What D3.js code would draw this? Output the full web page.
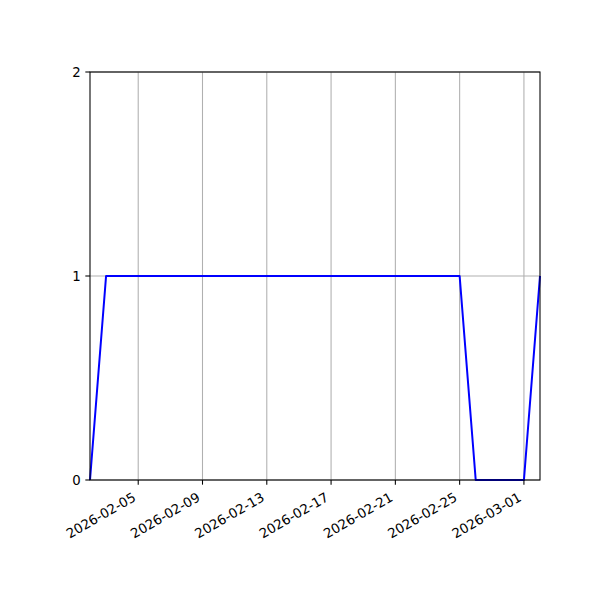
<!DOCTYPE html>
<html>
<head>
<meta charset="utf-8">
<script src="https://cdn.jsdelivr.net/npm/d3@7"></script>
<style>
  body { margin: 0; background: #fff; }
  text { font-family: "DejaVu Sans", sans-serif; font-size: 13.3px; fill: #000; }
</style>
</head>
<body>
<div id="chart"></div>
<script>
// daily values, 2026-02-02 .. 2026-03-02
var startDate = "2026-02-02";
var values = [0,
  1, 1, 1, 1, 1, 1, 1, 1, 1, 1, 1, 1, 1, 1, 1, 1, 1, 1, 1, 1, 1, 1, 1,
  0, 0, 0, 0,
  1];
var xTickLabels = ["2026-02-05", "2026-02-09", "2026-02-13", "2026-02-17",
                   "2026-02-21", "2026-02-25", "2026-03-01"];
var yTicks = [0, 1, 2];

var parse = d3.utcParse("%Y-%m-%d");
var day0 = parse(startDate);
var data = values.map((v, i) => ({ date: d3.utcDay.offset(day0, i), value: v }));

var width = 600, height = 600;
// plot box (window.top is reserved, so use other names)
var plotLeft = 90, plotRight = 540, plotTop = 72, plotBottom = 480;
var tickLen = 4.67;

var svg = d3.select("#chart").append("svg")
  .attr("width", width)
  .attr("height", height);

var x = d3.scaleUtc()
  .domain(d3.extent(data, d => d.date))
  .range([plotLeft, plotRight]);
var y = d3.scaleLinear()
  .domain([0, 2])
  .range([plotBottom, plotTop]);

var xTicks = xTickLabels.map(parse);

// grid
svg.append("g").selectAll("line")
  .data(xTicks)
  .enter().append("line")
  .attr("x1", d => x(d)).attr("x2", d => x(d))
  .attr("y1", plotTop).attr("y2", plotBottom)
  .attr("stroke", "#b0b0b0").attr("stroke-width", 1.07);

svg.append("g").selectAll("line")
  .data(yTicks)
  .enter().append("line")
  .attr("x1", plotLeft).attr("x2", plotRight)
  .attr("y1", d => y(d)).attr("y2", d => y(d))
  .attr("stroke", "#b0b0b0").attr("stroke-width", 1.07);

// line
var line = d3.line()
  .x(d => x(d.date))
  .y(d => y(d.value));

svg.append("path")
  .datum(data)
  .attr("fill", "none")
  .attr("stroke", "blue")
  .attr("stroke-width", 2)
  .attr("stroke-linejoin", "round")
  .attr("d", line);

// frame
svg.append("rect")
  .attr("x", plotLeft).attr("y", plotTop)
  .attr("width", plotRight - plotLeft).attr("height", plotBottom - plotTop)
  .attr("fill", "none").attr("stroke", "#000").attr("stroke-width", 1.07);

// x ticks
var xt = svg.append("g").selectAll("g")
  .data(xTicks)
  .enter().append("g");
xt.append("line")
  .attr("x1", d => x(d)).attr("x2", d => x(d))
  .attr("y1", plotBottom).attr("y2", plotBottom + tickLen)
  .attr("stroke", "#000").attr("stroke-width", 1.07);
xt.append("text")
  .attr("text-anchor", "end")
  .attr("transform", d => "translate(" + (x(d) - 1.5) + "," + (plotBottom + 20) + ") rotate(-30)")
  .text(d => d3.utcFormat("%Y-%m-%d")(d));

// y ticks
var yt = svg.append("g").selectAll("g")
  .data(yTicks)
  .enter().append("g");
yt.append("line")
  .attr("x1", plotLeft - tickLen).attr("x2", plotLeft)
  .attr("y1", d => y(d)).attr("y2", d => y(d))
  .attr("stroke", "#000").attr("stroke-width", 1.07);
yt.append("text")
  .attr("x", plotLeft - tickLen - 4.67)
  .attr("y", d => y(d))
  .attr("dy", "0.35em")
  .attr("text-anchor", "end")
  .text(d => d);
</script>
</body>
</html>
